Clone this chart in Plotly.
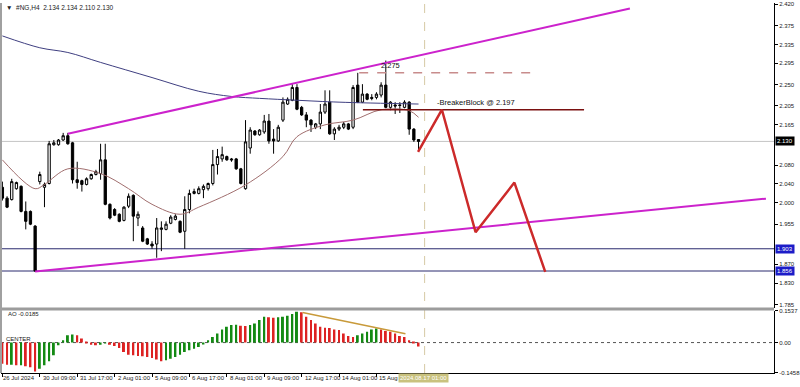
import plotly.graph_objects as go

# ---------------- data ----------------
bar_index = list(range(90))
opens = [2.033, 2.010, 2.007, 2.030, 2.035, 1.982, 1.982, 1.951, 2.045, 2.033,
         2.041, 2.123, 2.123, 2.133, 2.142, 2.127, 2.049, 2.047, 2.039, 2.051,
         2.060, 2.062, 2.091, 1.997, 1.986, 1.976, 1.963, 1.993, 2.016, 1.968,
         1.947, 1.924, 1.913, 1.913, 1.944, 1.944, 1.957, 1.965, 1.961, 1.940,
         1.986, 2.020, 2.020, 2.028, 2.030, 2.041, 2.081, 2.093, 2.098, 2.093,
         2.093, 2.072, 2.030, 2.116, 2.152, 2.144, 2.150, 2.173, 2.135, 2.131,
         2.175, 2.209, 2.217, 2.244, 2.202, 2.186, 2.175, 2.160, 2.167, 2.192,
         2.213, 2.146, 2.156, 2.160, 2.167, 2.160, 2.249, 2.213, 2.230, 2.223,
         2.223, 2.228, 2.249, 2.202, 2.207, 2.207, 2.202, 2.213, 2.156, 2.134]
highs = [2.045, 2.014, 2.051, 2.045, 2.037, 2.003, 1.984, 1.953, 2.066, 2.043,
         2.131, 2.133, 2.135, 2.148, 2.148, 2.129, 2.087, 2.049, 2.054, 2.062,
         2.070, 2.125, 2.125, 1.999, 1.989, 1.978, 1.993, 2.020, 2.018, 1.982,
         1.951, 1.926, 1.919, 1.968, 1.961, 1.961, 1.974, 1.976, 1.963, 2.014,
         2.028, 2.030, 2.035, 2.039, 2.043, 2.112, 2.114, 2.119, 2.100, 2.095,
         2.095, 2.074, 2.175, 2.160, 2.154, 2.156, 2.186, 2.188, 2.156, 2.165,
         2.223, 2.223, 2.251, 2.251, 2.205, 2.192, 2.177, 2.169, 2.209, 2.238,
         2.238, 2.160, 2.165, 2.171, 2.169, 2.249, 2.275, 2.251, 2.232, 2.230,
         2.234, 2.255, 2.301, 2.215, 2.213, 2.213, 2.217, 2.215, 2.158, 2.134]
lows = [2.005, 1.989, 2.005, 2.028, 1.980, 1.944, 1.953, 1.854, 2.039, 1.991,
        2.039, 2.121, 2.121, 2.131, 2.123, 2.041, 2.030, 2.024, 2.037, 2.049,
        2.058, 2.049, 1.995, 1.965, 1.972, 1.959, 1.961, 1.989, 1.919, 1.951,
        1.917, 1.911, 1.903, 1.884, 1.898, 1.942, 1.955, 1.963, 1.936, 1.903,
        1.978, 2.018, 2.018, 2.010, 2.026, 2.037, 2.060, 2.087, 2.089, 2.087,
        2.070, 2.039, 2.028, 2.104, 2.142, 2.142, 2.146, 2.125, 2.104, 2.129,
        2.171, 2.207, 2.215, 2.196, 2.184, 2.160, 2.150, 2.156, 2.156, 2.188,
        2.144, 2.133, 2.152, 2.156, 2.154, 2.156, 2.211, 2.211, 2.217, 2.217,
        2.219, 2.223, 2.200, 2.196, 2.188, 2.190, 2.200, 2.144, 2.129, 2.110]
closes = [2.010, 1.991, 2.045, 2.043, 1.982, 1.961, 1.955, 1.856, 2.060, 2.039,
          2.125, 2.127, 2.133, 2.142, 2.125, 2.049, 2.043, 2.039, 2.051, 2.060,
          2.066, 2.091, 1.997, 1.968, 1.974, 1.961, 1.991, 2.014, 1.972, 1.976,
          1.919, 1.913, 1.909, 1.947, 1.947, 1.955, 1.970, 1.972, 1.938, 1.986,
          2.020, 2.024, 2.030, 2.035, 2.041, 2.081, 2.098, 2.102, 2.091, 2.091,
          2.072, 2.041, 2.129, 2.154, 2.144, 2.154, 2.173, 2.131, 2.131, 2.160,
          2.213, 2.219, 2.244, 2.198, 2.186, 2.175, 2.165, 2.167, 2.192, 2.209,
          2.146, 2.156, 2.160, 2.167, 2.156, 2.244, 2.213, 2.230, 2.219, 2.221,
          2.230, 2.249, 2.202, 2.213, 2.205, 2.206, 2.213, 2.156, 2.133, 2.130]

# Awesome Oscillator values
ao_values = [-0.101, -0.106, -0.106, -0.109, -0.109, -0.113, -0.118, -0.139, -0.126, -0.109,
             -0.090, -0.061, -0.013, 0.011, 0.035, 0.039, 0.035, 0.019, 0.003, -0.010,
             -0.013, -0.010, -0.003, -0.010, -0.016, -0.026, -0.045, -0.058, -0.061, -0.064,
             -0.066, -0.069, -0.074, -0.081, -0.090, -0.085, -0.077, -0.069, -0.058, -0.045,
             -0.037, -0.029, -0.021, -0.005, 0.011, 0.027, 0.043, 0.063, 0.076, 0.084,
             0.085, 0.081, 0.080, 0.084, 0.092, 0.108, 0.124, 0.121, 0.119, 0.121,
             0.124, 0.129, 0.137, 0.148, 0.145, 0.124, 0.108, 0.092, 0.076, 0.071,
             0.070, 0.063, 0.060, 0.043, 0.032, 0.027, 0.035, 0.043, 0.052, 0.063,
             0.068, 0.063, 0.056, 0.052, 0.043, 0.032, 0.027, 0.011, 0.003, -0.0185]

# moving averages (sampled)
ma_slow_idx = [0, 8, 14, 21, 32, 42, 49, 55, 63, 72, 89]
ma_slow_val = [2.353, 2.328, 2.318, 2.297, 2.265, 2.236, 2.225, 2.221, 2.217, 2.213, 2.209]
ma_fast_idx = [0, 7, 9, 14, 21, 27, 32, 38, 42, 52, 60, 63, 69, 75, 81, 87, 89]
ma_fast_val = [2.091, 2.030, 2.039, 2.072, 2.062, 2.030, 1.997, 1.976, 1.991, 2.038,
               2.098, 2.140, 2.165, 2.175, 2.197, 2.195, 2.181]

# drawn objects
upper_channel_idx = [14, 134.2]
upper_channel_val = [2.146, 2.411]
lower_channel_idx = [7, 163.3]
lower_channel_val = [1.855, 2.009]
zigzag_idx = [88.9, 94.0, 101.2, 109.5, 116.1]
zigzag_val = [2.108, 2.197, 1.938, 2.043, 1.854]
breaker_idx = [77.1, 124.4]
breaker_level = 2.197
high_idx = [76.3, 114.4]
high_level = 2.275
ao_div_idx = [64.2, 86.2]
ao_div_val = [0.144, 0.0425]
support_levels = [1.903, 1.856]
current_price = 2.130
future_index = 90.3
future_label = "2024.08.17 01:00"

price_ticks = [2.420, 2.375, 2.335, 2.295, 2.250, 2.205, 2.165, 2.080, 2.040, 2.000,
               1.955, 1.870, 1.830, 1.785]
time_tick_idx = [0, 8, 16, 24, 32, 40, 48, 56, 64, 72, 80]
time_tick_text = ["26 Jul 2024", "30 Jul 09:00", "31 Jul 17:00", "2 Aug 01:00", "5 Aug 09:00",
                  "6 Aug 17:00", "8 Aug 01:00", "9 Aug 09:00", "12 Aug 17:00", "14 Aug 01:00",
                  "15 Aug 09:00"]
ao_ticks = [0.1537, 0.0, -0.1458]
ao_tick_text = ["0.1537", "0.00", "-0.1458"]

# ---------------- figure ----------------
FONT = "Liberation Sans"
W, H = 800, 387
ML, MR, MT, MB = 1, 22, 0, 14
plot_h = H - MT - MB
main_dom = [(plot_h - 307) / plot_h, 1.0]
ao_dom = [0.0, (plot_h - 310) / plot_h]
bar_px = 4.7
x0_px = 2.4
x_range = [(ML - x0_px) / bar_px, (W - MR - x0_px) / bar_px]

fig = go.Figure()

fig.add_trace(go.Scatter(x=ma_slow_idx, y=ma_slow_val, mode="lines", line=dict(color="#3f3f80", width=1, shape="spline"),
                         xaxis="x", yaxis="y", hoverinfo="skip"))
fig.add_trace(go.Scatter(x=ma_fast_idx, y=ma_fast_val, mode="lines", line=dict(color="#a06e6e", width=1, shape="spline"),
                         xaxis="x", yaxis="y", hoverinfo="skip"))

fig.add_trace(go.Candlestick(
    x=bar_index, open=opens, high=highs, low=lows, close=closes,
    increasing=dict(line=dict(color="black", width=1), fillcolor="white"),
    decreasing=dict(line=dict(color="black", width=1), fillcolor="black"),
    whiskerwidth=0, xaxis="x", yaxis="y", hoverinfo="skip"))

fig.add_trace(go.Scatter(x=upper_channel_idx, y=upper_channel_val, mode="lines",
                         line=dict(color="#cc22cc", width=2), xaxis="x", yaxis="y"))
fig.add_trace(go.Scatter(x=lower_channel_idx, y=lower_channel_val, mode="lines",
                         line=dict(color="#cc22cc", width=2), xaxis="x", yaxis="y"))
fig.add_trace(go.Scatter(x=breaker_idx, y=[breaker_level] * 2, mode="lines",
                         line=dict(color="#7a1010", width=1.5), xaxis="x", yaxis="y"))
fig.add_trace(go.Scatter(x=high_idx, y=[high_level] * 2, mode="lines",
                         line=dict(color="#c88c8c", width=1.5, dash="dash"), xaxis="x", yaxis="y"))
fig.add_trace(go.Scatter(x=zigzag_idx, y=zigzag_val, mode="lines",
                         line=dict(color="#cc2a2a", width=2.5), xaxis="x", yaxis="y"))

ao_colors = []
for i, v in enumerate(ao_values):
    if i == 0 or v < ao_values[i - 1]:
        ao_colors.append("#dd2222")
    else:
        ao_colors.append("#138a13")
fig.add_trace(go.Bar(x=bar_index, y=ao_values, marker=dict(color=ao_colors, line=dict(width=0)),
                     width=0.42, xaxis="x2", yaxis="y2", hoverinfo="skip"))
fig.add_trace(go.Scatter(x=ao_div_idx, y=ao_div_val, mode="lines",
                         line=dict(color="#c89a3a", width=1.5), xaxis="x2", yaxis="y2"))

shapes = []
# current price line
shapes.append(dict(type="line", xref="paper", yref="y", x0=0, x1=1, y0=current_price, y1=current_price,
                   line=dict(color="#c4c4c4", width=1), layer="below"))
for lv in support_levels:
    shapes.append(dict(type="line", xref="paper", yref="y", x0=0, x1=1, y0=lv, y1=lv,
                       line=dict(color="#2a2a6e", width=1), layer="below"))
# future time separator
shapes.append(dict(type="line", xref="x", yref="paper", x0=future_index, x1=future_index, y0=0, y1=1,
                   line=dict(color="#d6caa4", width=1, dash="dash"), layer="below"))
# AO zero line
shapes.append(dict(type="line", xref="paper", yref="y2", x0=0, x1=1, y0=0, y1=0,
                   line=dict(color="#555555", width=1, dash="dot"), layer="below"))
# panel separator
shapes.append(dict(type="rect", xref="paper", yref="paper", x0=-0.01, x1=1, y0=ao_dom[1], y1=main_dom[0],
                   fillcolor="#9c9c9c", line=dict(width=0)))
# left frame
shapes.append(dict(type="line", xref="paper", yref="paper", x0=0, x1=0, y0=0, y1=1,
                   line=dict(color="#a0a0a0", width=2)))

ann = []
ann.append(dict(xref="paper", yref="paper", x=0.004, y=1 - 5 / plot_h, xanchor="left", yanchor="middle",
                text="\u25bc  #NG,H4  2.134 2.134 2.110 2.130", showarrow=False,
                font=dict(family=FONT, size=6.5, color="#222222")))
ann.append(dict(xref="x", yref="y", x=83, y=high_level, yanchor="bottom", yshift=1,
                text="2.275", showarrow=False, font=dict(family=FONT, size=7.5, color="#111111")))
ann.append(dict(xref="x", yref="y", x=92.6, y=breaker_level, xanchor="left", yanchor="bottom", yshift=1,
                text="-BreakerBlock @ 2.197", showarrow=False, font=dict(family=FONT, size=7.5, color="#111111")))
# price boxes on right axis
for val, bg in [(current_price, "#000000"), (support_levels[0], "#1c1cc8"), (support_levels[1], "#1c1cc8")]:
    ann.append(dict(xref="paper", yref="y", x=1, y=val, xanchor="left", yanchor="middle", xshift=1,
                    text="%.3f" % val, showarrow=False, bgcolor=bg, borderpad=1,
                    font=dict(family=FONT, size=6, color="white")))
# AO labels
ann.append(dict(xref="paper", yref="paper", x=0.006, y=(plot_h - 314) / plot_h, xanchor="left", yanchor="middle",
                text="AO -0.0185", showarrow=False, font=dict(family=FONT, size=6, color="#222222")))
ann.append(dict(xref="paper", yref="paper", x=0.004, y=(plot_h - 338.5) / plot_h, xanchor="left", yanchor="middle",
                text="CENTER", showarrow=False, font=dict(family=FONT, size=6, color="#222222")))
# time labels
for idx, txt in zip(time_tick_idx, time_tick_text):
    ann.append(dict(xref="x2", yref="paper", x=idx, y=-5 / plot_h, xanchor="left", yanchor="middle",
                    xshift=1 if idx > 0 else -1, text=txt, showarrow=False,
                    font=dict(family=FONT, size=6, color="#222222")))
ann.append(dict(xref="x2", yref="paper", x=future_index - 0.3, y=-5 / plot_h, xanchor="center", yanchor="middle",
                text=future_label, showarrow=False, bgcolor="#c9c27e", borderpad=1,
                font=dict(family=FONT, size=6, color="white")))

axis_common = dict(showgrid=False, zeroline=False)
fig.update_layout(
    width=W, height=H,
    margin=dict(l=ML, r=MR, t=MT, b=MB),
    paper_bgcolor="white", plot_bgcolor="white",
    showlegend=False,
    xaxis=dict(domain=[0, 1], range=x_range, anchor="y", showticklabels=False, ticks="",
               rangeslider=dict(visible=False), **axis_common),
    xaxis2=dict(domain=[0, 1], range=x_range, anchor="y2", matches="x", showticklabels=False,
                ticks="outside", ticklen=3, tickcolor="black", tickvals=time_tick_idx,
                showline=True, linecolor="black", linewidth=1, **axis_common),
    yaxis=dict(domain=main_dom, range=[1.7788, 2.4226], side="right", anchor="x",
               tickvals=price_ticks, ticktext=["%.3f" % v for v in price_ticks],
               ticks="outside", ticklen=3, tickcolor="black",
               tickfont=dict(family=FONT, size=6, color="#222222"),
               showline=True, linecolor="black", linewidth=1, **axis_common),
    yaxis2=dict(domain=ao_dom, range=[-0.1458, 0.1537], side="right", anchor="x2",
                tickvals=ao_ticks, ticktext=ao_tick_text, ticks="outside", ticklen=3, tickcolor="black",
                tickfont=dict(family=FONT, size=6, color="#222222"),
                showline=True, linecolor="black", linewidth=1, **axis_common),
    shapes=shapes, annotations=ann,
)

fig.write_html("out.html", config={"displayModeBar": False},
               post_script="document.body.style.margin='0';document.body.style.padding='0';document.body.style.overflow='hidden';")
